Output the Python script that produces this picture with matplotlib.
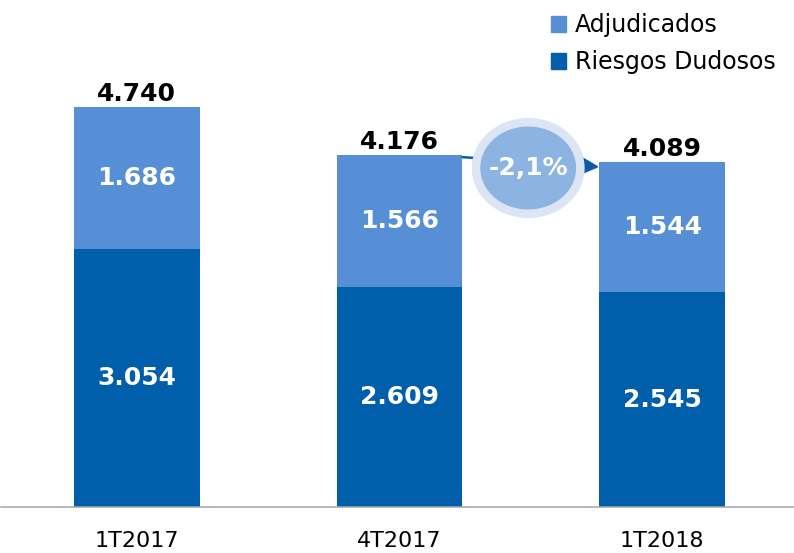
import matplotlib.pyplot as plt
from matplotlib.patches import Ellipse, Patch

# Data (miles de millones)
periods = ["1T2017", "4T2017", "1T2018"]
riesgos_dudosos = [3054, 2609, 2545]
adjudicados = [1686, 1566, 1544]
totals = [4740, 4176, 4089]
change_label = "-2,1%"

dark_blue = "#005EAA"
light_blue = "#568FD5"

fig = plt.figure(figsize=(7.94, 5.53), dpi=100)
ax = fig.add_axes([1 / 794, 46 / 553, 793 / 794, 507 / 553])

x = list(range(len(periods)))
w = 0.479

ax.bar(x, riesgos_dudosos, width=w, color=dark_blue, zorder=2)
ax.bar(x, adjudicados, width=w, bottom=riesgos_dudosos, color=light_blue, zorder=2)

for i in x:
    ax.text(i, riesgos_dudosos[i] / 2, f"{riesgos_dudosos[i]:,}".replace(",", "."),
            ha="center", va="center", color="white", fontsize=18, fontweight="bold", zorder=5)
    ax.text(i, riesgos_dudosos[i] + adjudicados[i] / 2, f"{adjudicados[i]:,}".replace(",", "."),
            ha="center", va="center", color="white", fontsize=18, fontweight="bold", zorder=5)
    ax.text(i, totals[i] + 10, f"{totals[i]:,}".replace(",", "."),
            ha="center", va="bottom", color="black", fontsize=18, fontweight="bold", zorder=5)

# arrow between 4T2017 and 1T2018
ax.annotate("", xy=(2 - w / 2, totals[2] - 60), xytext=(1 + w / 2, totals[1] - 30),
            arrowprops=dict(arrowstyle="-|>", color="#0B5CA8", lw=1.8,
                            mutation_scale=27, shrinkA=0, shrinkB=0), zorder=3)

cx, cy = 1.49, 4017
ax.add_patch(Ellipse((cx, cy), 113 / 263, 100 / 0.08439, facecolor="#DCE5F2",
                     edgecolor="none", zorder=4))
ax.add_patch(Ellipse((cx, cy), 96 / 263, 83 / 0.08439, facecolor="#8DB3E2",
                     edgecolor="none", zorder=4))
ax.text(cx, cy, change_label, ha="center", va="center", color="white",
        fontsize=18, fontweight="bold", zorder=5)

ax.set_xlim(-136 / 263, (794 - 136) / 263)
ax.set_ylim(0, 507 / 0.08439)
ax.set_xticks(x)
ax.set_xticklabels(periods, fontsize=16)
ax.tick_params(axis="x", length=0, pad=17)
ax.set_yticks([])
for s in ["top", "left", "right"]:
    ax.spines[s].set_visible(False)
ax.spines["bottom"].set_color("#A6A6A6")
ax.spines["bottom"].set_linewidth(1.1)

handles = [Patch(color=light_blue), Patch(color=dark_blue)]
fig.legend(handles, ["Adjudicados", "Riesgos Dudosos"], loc="upper left",
           bbox_to_anchor=(551 / 794, 1 - 13 / 553), frameon=False, fontsize=17,
           handlelength=0.65, handleheight=0.65, handletextpad=0.35,
           labelspacing=0.55, borderpad=0, borderaxespad=0)

fig.savefig("out.png", dpi=100)
